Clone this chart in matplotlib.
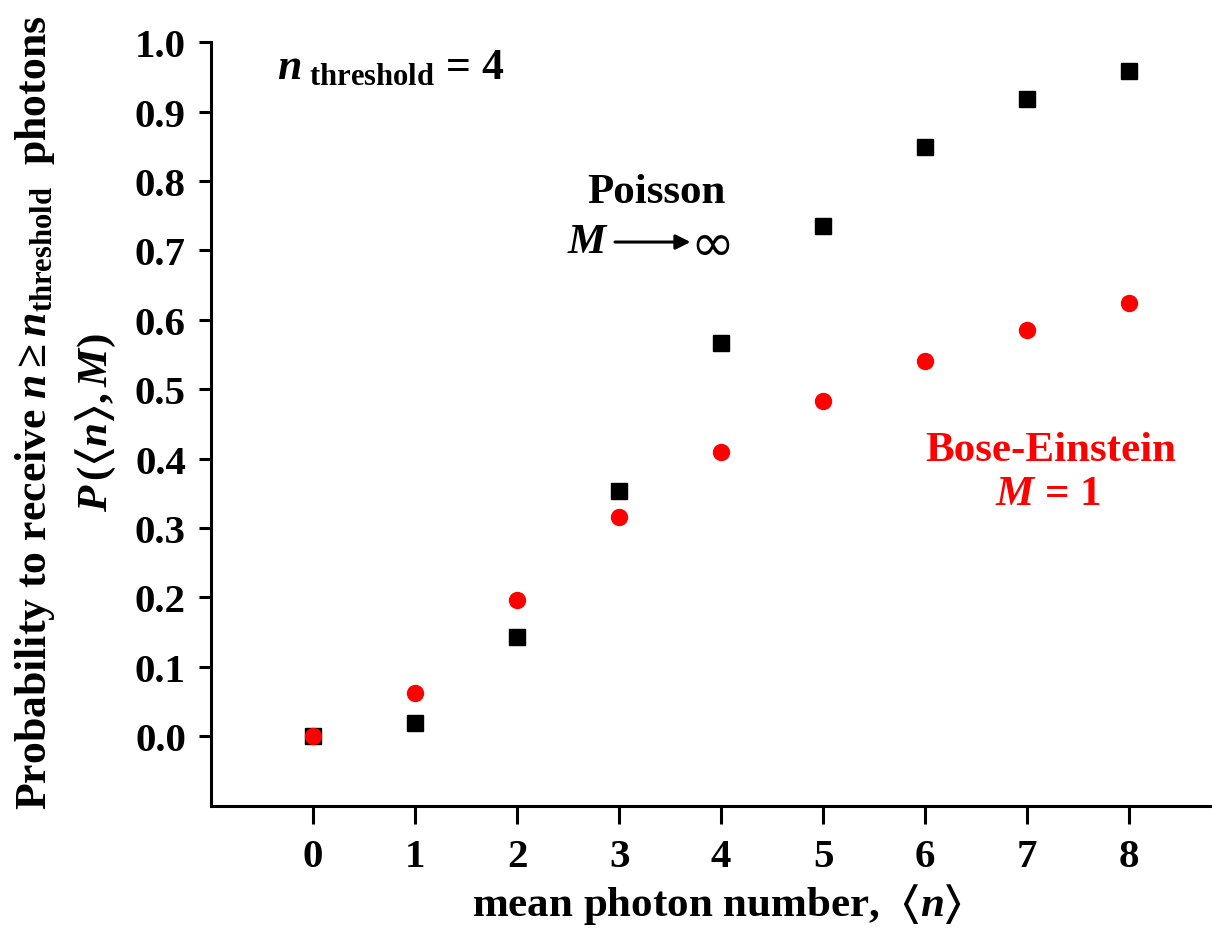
import matplotlib
matplotlib.use('Agg')
import matplotlib.pyplot as plt

# data
mean_n = [0, 1, 2, 3, 4, 5, 6, 7, 8]
poisson = [0.0, 0.019, 0.143, 0.353, 0.567, 0.735, 0.849, 0.918, 0.958]
bose_einstein = [0.0, 0.062, 0.196, 0.316, 0.410, 0.483, 0.540, 0.586, 0.624]
xticks = [0, 1, 2, 3, 4, 5, 6, 7, 8]
yticks = [0.0, 0.1, 0.2, 0.3, 0.4, 0.5, 0.6, 0.7, 0.8, 0.9, 1.0]

plt.rcParams['font.family'] = ['Liberation Serif', 'DejaVu Sans']
plt.rcParams['font.weight'] = 'bold'
plt.rcParams['mathtext.fontset'] = 'custom'
plt.rcParams['mathtext.rm'] = 'Liberation Serif:bold'
plt.rcParams['mathtext.it'] = 'Liberation Serif:italic:bold'
plt.rcParams['mathtext.bf'] = 'Liberation Serif:bold'
plt.rcParams['mathtext.fallback'] = 'stix'

fs = 31
tfs = 29.5
fig = plt.figure(figsize=(12.12, 9.29), dpi=100)
ax = fig.add_axes([0.174, 0.1316, 0.826, 0.822])

ax.plot(mean_n, poisson, 's', color='black', markersize=11, zorder=3)
ax.plot(mean_n, bose_einstein, 'o', color='red', markersize=11.5, zorder=4)

ax.set_xlim(-1, 8.81)
ax.set_ylim(-0.1, 1.0)
ax.set_xticks(xticks)
ax.set_yticks(yticks)
ax.set_yticklabels(['%.1f' % v for v in yticks])
ax.tick_params(axis='both', labelsize=tfs, width=2.2, direction='out')
ax.tick_params(axis='x', length=13, pad=10)
ax.tick_params(axis='y', length=9, pad=9)
for lab in ax.get_xticklabels() + ax.get_yticklabels():
    lab.set_fontweight('bold')

for s in ['top', 'right']:
    ax.spines[s].set_visible(False)
for s in ['left', 'bottom']:
    ax.spines[s].set_linewidth(2.2)

# axis titles
fig.text(0.592, 0.026, r'mean photon number,  $\langle n\rangle$', fontsize=fs,
         fontweight='bold', ha='center', va='center')
fig.text(0.029, 0.556, r'Probability to receive $n \geq n_{\rm threshold}$  photons',
         rotation=90, fontsize=31.5, fontweight='bold', ha='center', va='center')
fig.text(0.079, 0.545, r'$P\,(\langle n\rangle, M)$',
         rotation=90, fontsize=fs, fontweight='bold', ha='center', va='center')

# annotations
ax.text(-0.35, 0.964, r'$n_{\ \rm threshold}$ = 4', fontsize=31.5, fontweight='bold',
        ha='left', va='center')
ax.text(3.37, 0.784, 'Poisson', fontsize=fs, fontweight='bold', ha='center', va='center')
ax.text(2.90, 0.712, '$M$', fontsize=fs, fontweight='bold', ha='right', va='center')
ax.annotate('', xy=(3.70, 0.712), xytext=(2.96, 0.712),
            arrowprops=dict(arrowstyle='-|>', color='black', lw=2.2,
                            mutation_scale=22, shrinkA=0, shrinkB=0))
ax.text(3.70, 0.708, '\u221e', fontsize=38, fontweight='normal', ha='left', va='center',
        family='DejaVu Sans')
ax.text(7.23, 0.413, 'Bose-Einstein', fontsize=fs, fontweight='bold', color='red',
        ha='center', va='center')
ax.text(7.2, 0.349, '$M$ = 1', fontsize=fs, fontweight='bold', color='red',
        ha='center', va='center')

fig.savefig('out.png', dpi=100)
